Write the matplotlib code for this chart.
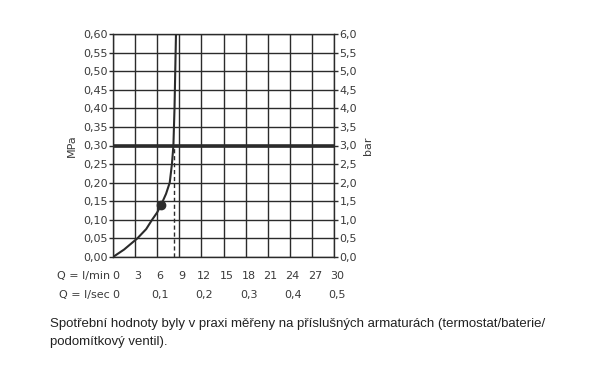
import matplotlib.pyplot as plt

# flow rate (l/min) vs pressure (MPa)
flow_lpm = [0, 1.5, 3.3, 4.5, 5.3, 6.0, 6.55, 7.2, 7.7, 8.0, 8.2, 8.35, 8.45, 8.55]
pressure_mpa = [0, 0.02, 0.05, 0.075, 0.10, 0.12, 0.141, 0.17, 0.20, 0.25, 0.30, 0.40, 0.50, 0.60]

marker_q, marker_p = 6.55, 0.141
dashed_q = 8.3
rated_p = 0.30

lpm_ticks = [0, 3, 6, 9, 12, 15, 18, 21, 24, 27, 30]
lps_ticks = [0, 6, 12, 18, 24, 30]
lps_labels = ["0", "0,1", "0,2", "0,3", "0,4", "0,5"]
mpa_ticks = [i * 0.05 for i in range(13)]

ink = "#2b2b2b"
txt = "#3a3a3a"

fig = plt.figure(figsize=(6, 3.66), dpi=100)
ax = fig.add_axes([113 / 600, 1 - 257 / 366, 221 / 600, 223 / 366])

ax.set_xlim(0, 30)
ax.set_ylim(0, 0.6)
ax.set_xticks(lpm_ticks)
ax.set_yticks(mpa_ticks)
ax.set_yticklabels([f"{v:.2f}".replace(".", ",") for v in mpa_ticks])
ax.set_xticklabels([])
ax.grid(True, color=ink, linewidth=1.0)
ax.set_axisbelow(True)
for s in ax.spines.values():
    s.set_color(ink)
    s.set_linewidth(1.0)
ax.tick_params(axis="y", direction="out", length=3, width=1, color=ink,
               labelsize=8, labelcolor=txt, pad=1)
ax.tick_params(axis="x", length=0)
ax.set_ylabel("MPa", fontsize=8, color=txt, labelpad=4)

ax.axhline(rated_p, color=ink, linewidth=2.6, zorder=3)
ax.plot([dashed_q, dashed_q], [0, rated_p], color=ink, linewidth=1.0,
        linestyle=(0, (3, 2)), zorder=3)
ax.plot(flow_lpm, pressure_mpa, color=ink, linewidth=1.5, zorder=4)
ax.plot([marker_q], [marker_p], "o", color=ink, markersize=6, zorder=5)

# right axis in bar
ax2 = ax.twinx()
ax2.set_ylim(0, 6)
bar_ticks = [i * 0.5 for i in range(13)]
ax2.set_yticks(bar_ticks)
ax2.set_yticklabels([f"{v:.1f}".replace(".", ",") for v in bar_ticks])
ax2.tick_params(axis="y", direction="out", length=3, width=1, color=ink,
                labelsize=8, labelcolor=txt, pad=1)
for s in ax2.spines.values():
    s.set_visible(False)
ax2.set_ylabel("bar", fontsize=8, color=txt, labelpad=4)

# two rows of flow labels below the axis
trans = ax.get_xaxis_transform()
for q in lpm_ticks:
    ax.text(q + 0.4, -0.085, str(q), transform=trans, ha="center", va="center",
            fontsize=8, color=txt)
for q, lab in zip(lps_ticks, lps_labels):
    ax.text(q + 0.4, -0.17, lab, transform=trans, ha="center", va="center",
            fontsize=8, color=txt)
ax.text(-0.45, -0.085, "Q = l/min", transform=trans, ha="right", va="center",
        fontsize=8, color=txt)
ax.text(-0.45, -0.17, "Q = l/sec", transform=trans, ha="right", va="center",
        fontsize=8, color=txt)

fig.text(50 / 600, 1 - 324 / 366,
         "Spotřební hodnoty byly v praxi měřeny na příslušných armaturách (termostat/baterie/",
         fontsize=9.5, family="Liberation Sans", color="#222222", va="center")
fig.text(50 / 600, 1 - 342 / 366, "podomítkový ventil).",
         fontsize=9.5, family="Liberation Sans", color="#222222", va="center")

fig.savefig("out.png", dpi=100)
